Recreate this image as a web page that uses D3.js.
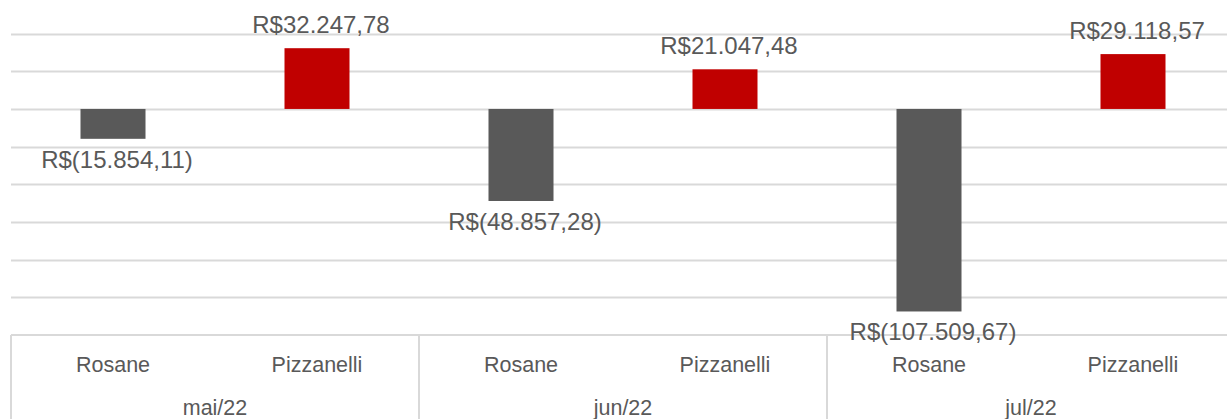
<!DOCTYPE html>
<html>
<head>
<meta charset="utf-8">
<script src="https://cdn.jsdelivr.net/npm/d3@7"></script>
<style>
  body { margin: 0; background: #fff; }
  svg { display: block; }
  text { font-family: "Liberation Sans", Arial, sans-serif; fill: #595959; }
</style>
</head>
<body>
<div id="chart"></div>
<script>
// months and people on the category axis
var months = ["mai/22", "jun/22", "jul/22"];
var people = ["Rosane", "Pizzanelli"];
// result per month, same order as people
var rosane = [-15854.11, -48857.28, -107509.67];
var pizzanelli = [32247.78, 21047.48, 29118.57];
var yTicks = [40000, 20000, 0, -20000, -40000, -60000, -80000, -100000, -120000];

var width = 1227, height = 419;
var colors = { Rosane: "#595959", Pizzanelli: "#c00000" };

var rows = [];
months.forEach(function(m, i) {
  rows.push({ month: m, person: "Rosane", value: rosane[i] });
  rows.push({ month: m, person: "Pizzanelli", value: pizzanelli[i] });
});

var svg = d3.select("#chart").append("svg")
  .attr("width", width)
  .attr("height", height);

var x0 = d3.scaleBand().domain(months).range([11, 1235]);
var x1 = d3.scaleBand().domain(people).range([0, x0.bandwidth()]);
var y = d3.scaleLinear().domain([-120000, 40000]).range([335, 33.6]);

var barW = 65;

// gridlines
svg.append("g").selectAll("line")
  .data(yTicks.filter(function(t) { return t > -120000; }))
  .enter().append("line")
  .attr("x1", 11).attr("x2", width)
  .attr("y1", function(d) { return Math.round(y(d)) + 0.5; })
  .attr("y2", function(d) { return Math.round(y(d)) + 0.5; })
  .attr("stroke", "#d9d9d9")
  .attr("stroke-width", 2);

// category box
var box = svg.append("g").attr("stroke", "#d9d9d9").attr("stroke-width", 2);
box.append("line")
  .attr("x1", 11).attr("x2", width)
  .attr("y1", y(-120000)).attr("y2", y(-120000));
box.selectAll(".sep")
  .data(months)
  .enter().append("line")
  .attr("x1", function(d) { return x0(d); })
  .attr("x2", function(d) { return x0(d); })
  .attr("y1", y(-120000)).attr("y2", height);

// bars
svg.append("g").selectAll("rect")
  .data(rows)
  .enter().append("rect")
  .attr("x", function(d) { return x0(d.month) + x1(d.person) + (x1.bandwidth() - barW) / 2; })
  .attr("width", barW)
  .attr("y", function(d) { return y(Math.max(0, d.value)); })
  .attr("height", function(d) { return Math.abs(y(d.value) - y(0)); })
  .attr("fill", function(d) { return colors[d.person]; });

// value labels
function brl(v) {
  var s = d3.format(",.2f")(Math.abs(v)).replace(/,/g, "#").replace(".", ",").replace(/#/g, ".");
  return v < 0 ? "R$(" + s + ")" : "R$" + s;
}

svg.append("g").selectAll("text")
  .data(rows)
  .enter().append("text")
  .attr("x", function(d) { return x0(d.month) + x1(d.person) + x1.bandwidth() / 2 + 4; })
  .attr("y", function(d) { return d.value < 0 ? y(d.value) + 29 : y(d.value) - 15; })
  .attr("text-anchor", "middle")
  .style("font-size", "24px")
  .text(function(d) { return brl(d.value); });

// person labels
svg.append("g").selectAll("text")
  .data(rows)
  .enter().append("text")
  .attr("x", function(d) { return x0(d.month) + x1(d.person) + x1.bandwidth() / 2; })
  .attr("y", 372)
  .attr("text-anchor", "middle")
  .style("font-size", "21.5px")
  .text(function(d) { return d.person; });

// month labels
svg.append("g").selectAll("text")
  .data(months)
  .enter().append("text")
  .attr("x", function(d) { return x0(d) + x0.bandwidth() / 2; })
  .attr("y", 415)
  .attr("text-anchor", "middle")
  .style("font-size", "21.5px")
  .text(function(d) { return d; });
</script>
</body>
</html>
